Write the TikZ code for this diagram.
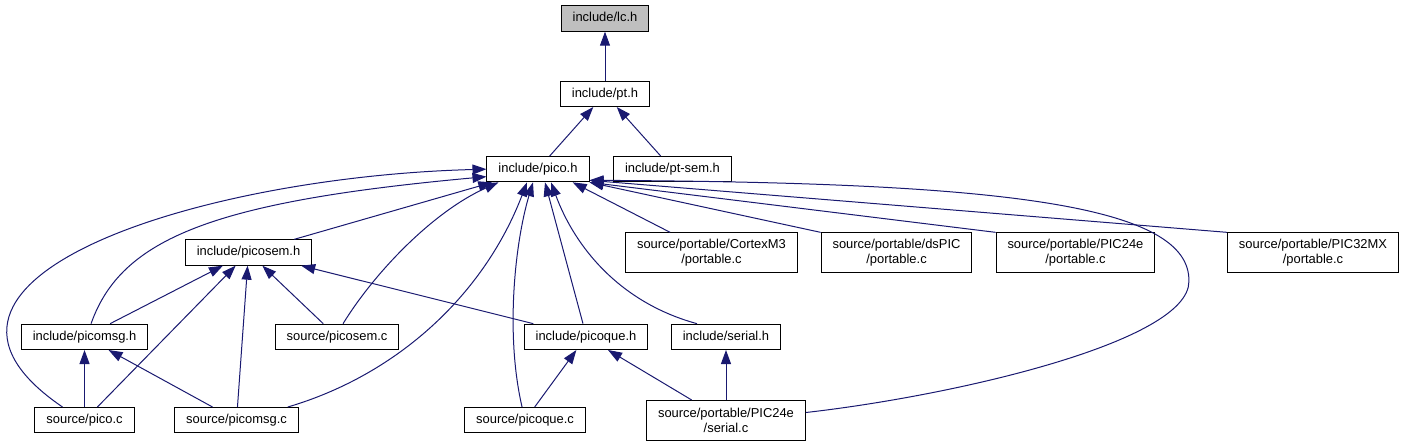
\documentclass[tikz,border=0pt]{standalone}
\usepackage{fontspec}
\setmainfont{Liberation Sans}
\usetikzlibrary{positioning,arrows.meta}
\definecolor{edgeblue}{HTML}{191970}
\definecolor{focusgray}{HTML}{BFBFBF}

\begin{document}
\begin{tikzpicture}[
  box/.style={
    draw=black,
    line width=0.75pt,
    align=center,
    font=\fontsize{9.7}{10.9}\selectfont,
    minimum height=19pt,
    inner xsep=8.6pt,
    inner ysep=2pt,
    text height=7pt,
    text depth=2pt,
    fill=white
  },
  twoline/.style={box, text height=, text depth=, minimum height=30pt},
  focus/.style={box, fill=focusgray},
  line/.style={draw=edgeblue, line width=0.75pt, -{Triangle[length=10.5pt,width=7.5pt]}}
]
\useasboundingbox (-453.75pt,13.875pt) rectangle (597.75pt,-318.375pt);

\node[focus] (lc) {include/lc.h};
\node[box, below=36.75pt of lc] (pt) {include/pt.h};
\node[box, below=36.75pt of pt, xshift=-50.25pt] (pico) {include/pico.h};
\node[box, below=36.75pt of pt, xshift=50.6pt] (ptsem) {include/pt-sem.h};

\node[box, below=42.75pt of pico, xshift=-217.1pt] (picosem) {include/picosem.h};
\node[twoline, below=37.5pt of pico, xshift=130.1pt] (cortex) {source/portable/CortexM3\\/portable.c};
\node[twoline, below=37.5pt of pico, xshift=268.9pt] (dspic) {source/portable/dsPIC\\/portable.c};
\node[twoline, below=37.5pt of pico, xshift=403.1pt] (portpic24) {source/portable/PIC24e\\/portable.c};
\node[twoline, below=37.5pt of pico, xshift=581.25pt] (pic32) {source/portable/PIC32MX\\/portable.c};

\node[box, below=43.5pt of picosem, xshift=-123pt] (picomsgh) {include/picomsg.h};
\node[box, below=43.5pt of picosem, xshift=66.4pt] (picosemc) {source/picosem.c};
\node[box, below=43.5pt of picosem, xshift=253.1pt] (picoqueh) {include/picoque.h};
\node[box, below=43.5pt of picosem, xshift=358.1pt] (serialh) {include/serial.h};

\node[box, below=42.75pt of picomsgh] (picoc) {source/pico.c};
\node[box, below=42.75pt of picomsgh, xshift=114pt] (picomsgc) {source/picomsg.c};
\node[box, below=42.75pt of picomsgh, xshift=330.4pt] (picoquec) {source/picoque.c};
\node[twoline, below=37.5pt of picomsgh, xshift=481.1pt] (serialc) {source/portable/PIC24e\\/serial.c};

\draw[line] (pt) -- (lc);
\draw[line] (pico) -- (pt);
\draw[line] (ptsem) -- (pt);
\draw[line] (picosem) -- (pico);
\draw[line] ([xshift=4.9pt]picomsgh.north) .. controls +(22.5pt,63.75pt) and +(-205.5pt,-18.75pt) .. ([yshift=-5.6pt]pico.west);
\draw[line] ([xshift=-16.5pt]picoc.north) .. controls +(-141pt,96pt) and +(-215.25pt,-5.6pt) .. (pico.west);
\draw[line] ([xshift=4.5pt]picosemc.north) .. controls +(22.5pt,36.75pt) and +(-50.25pt,-22.5pt) .. ([xshift=9pt]pico.south west);
\draw[line] ([xshift=-8.25pt]picomsgc.north east) .. controls +(84pt,24.75pt) and +(-31.5pt,-82.5pt) .. ([xshift=-8.25pt]pico.south);
\draw[line] ([xshift=-2.25pt]picoquec.north) .. controls +(-12.75pt,54.75pt) and +(-13.5pt,-45pt) .. ([xshift=-3.75pt]pico.south);
\draw[line] ([xshift=-2.25pt]picoqueh.north) -- ([xshift=5.25pt]pico.south);
\draw[line] ([xshift=-21.75pt]serialh.north) .. controls +(-57.75pt,15.75pt) and +(18pt,-48.75pt) .. ([xshift=9.75pt]pico.south);
\draw[line] ([xshift=-31pt]cortex.north) -- ([xshift=26pt]pico.south);
\draw[line] (dspic.north west) -- (pico.south east);
\draw[line] (portpic24.north west) -- (pico.south east);
\draw[line] (pic32.north west) -- ([yshift=1.5pt]pico.south east);
\draw[line] ([yshift=6pt]serialc.east) .. controls +(112.5pt,12.75pt) and +(0pt,-45pt) .. ++(287.25pt,98.25pt) .. controls +(1.5pt,57.75pt) and +(308.25pt,-1.5pt) .. ([yshift=1.5pt]pico.south east);
\draw[line] (picomsgh) -- (picosem);
\draw[line] (picoc) -- (picosem);
\draw[line] (picomsgc) -- (picosem);
\draw[line] (picosemc) -- (picosem);
\draw[line] (picoqueh) -- (picosem);
\draw[line] (picoc) -- (picomsgh);
\draw[line] (picomsgc) -- (picomsgh);
\draw[line] (picoquec) -- (picoqueh);
\draw[line] (serialc) -- (picoqueh);
\draw[line] (serialc) -- (serialh);
\end{tikzpicture}
\end{document}
